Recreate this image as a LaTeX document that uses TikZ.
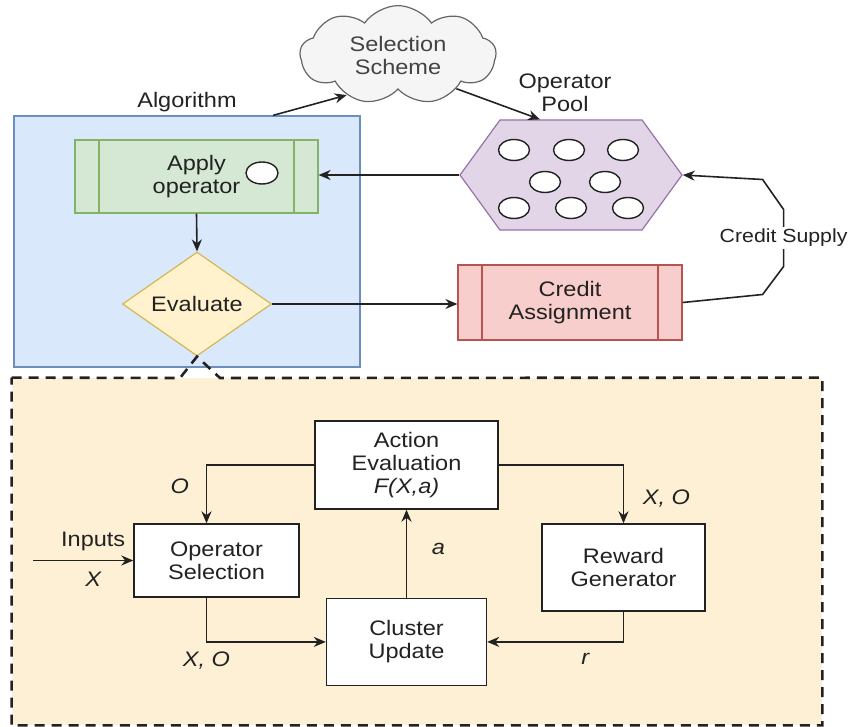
\documentclass[tikz,border=0pt]{standalone}
\usepackage{fontspec}
\setmainfont{Liberation Sans}[FakeStretch=1.12]
\usepackage{tikz}
\usetikzlibrary{positioning, arrows.meta, shapes.geometric, shapes.symbols, calc}

\definecolor{algofill}{HTML}{DAE8FC}
\definecolor{algoline}{HTML}{6C8EBF}
\definecolor{applyfill}{HTML}{D5E8D4}
\definecolor{applyline}{HTML}{82B366}
\definecolor{evalfill}{HTML}{FFF2CC}
\definecolor{evalline}{HTML}{D6B656}
\definecolor{creditfill}{HTML}{F8CECC}
\definecolor{creditline}{HTML}{B85450}
\definecolor{poolfill}{HTML}{E1D5E7}
\definecolor{poolline}{HTML}{9673A6}
\definecolor{cloudfill}{HTML}{F5F5F5}
\definecolor{cloudline}{HTML}{666666}
\definecolor{zoomfill}{HTML}{FDF0D4}
\definecolor{ink}{HTML}{222222}

\tikzset{
    procbox/.style={draw=#1line, fill=#1fill, line width=0.6pt, align=center,
        path picture={\draw[#1line, line width=0.6pt]
            ([xshift=12pt]path picture bounding box.north west) -- ([xshift=12pt]path picture bounding box.south west)
            ([xshift=-12pt]path picture bounding box.north east) -- ([xshift=-12pt]path picture bounding box.south east);}},
    flowbox/.style={draw=ink, fill=white, line width=0.7pt, align=center},
    token/.style={draw=ink, fill=white, line width=0.7pt},
    conn/.style={->, draw=ink, line width=0.8pt},
    varlbl/.style={font=\fontsize{10.5}{11.5}\selectfont\itshape},
    zoomedge/.style={draw=ink, line width=1.3pt, dash pattern=on 5pt off 3.5pt}
}

\begin{document}
\begin{tikzpicture}[x=0.5pt, y=-0.5pt, node distance=1pt, >={Stealth[length=6pt, width=5pt]},
    font=\fontsize{10.5}{11.5}\selectfont, text=ink]
    \useasboundingbox (0,0) rectangle (850,727);

    \node[fill=zoomfill, inner sep=0pt, minimum width=405pt, minimum height=173.5pt] (detail) at (417,551.5) {};

    \node[fill=algofill, draw=algoline, line width=0.6pt, minimum width=173pt, minimum height=125.5pt] (algo) at (187,241.5) {};
    \node[above=-2pt of algo] (algolbl) {Algorithm};
    \node[cloud, cloud puffs=9, cloud puff arc=110, aspect=2.3, draw=cloudline, fill=cloudfill, line width=0.6pt, align=center,
        text=ink!85, minimum width=98pt, minimum height=42pt] (scheme) at (398,55) {Selection\\Scheme};
    \node[procbox=apply, minimum width=121.5pt, minimum height=36.5pt] (apply) at (196.5,176.5) {Apply\\operator};
    \node[token, ellipse, minimum width=16pt, minimum height=11pt, inner sep=0pt] (slot) at (262,173) {};
    \node[diamond, aspect=1.43, draw=evalline, fill=evalfill, line width=0.6pt, inner sep=0pt,
        minimum width=74.5pt, minimum height=52pt] (evaluate) at (197,304) {Evaluate};
    \node[signal, signal to=west and east, signal pointer angle=108, draw=poolline, fill=poolfill, line width=0.6pt,
        minimum width=111pt, minimum height=55pt] (pool) at (571,175) {};
    \node[above=0.5pt of pool, xshift=-3pt, align=center] (poollbl) {Operator\\Pool};
    \node[procbox=credit, minimum width=112pt, minimum height=37.5pt] (credit) at (570,302.5) {Credit\\Assignment};

    \foreach \dx/\dy in {-57/-25, -2/-25, 52/-25, -26/7, 34/7, -57/33, 0/33, 57/33}
        \draw[token] ($(pool.center)+(\dx,\dy)$) ellipse (7.75pt and 5.25pt);

    \draw[conn] (algo.north -| 273,0) -- (scheme.218);
    \draw[conn] (scheme.330) -- ($(pool.north)+(-31,0)$);
    \draw[conn] (pool.west) -- (pool.west -| apply.east);
    \draw[conn] (apply.south) -- (evaluate.north);
    \draw[conn] (evaluate.east) -- (evaluate.east -| credit.west);
    \draw[conn] (credit.east) -- ++(80,-8) -- ++(21,-28)
        -- node[fill=white, inner sep=1pt, font=\fontsize{9.5}{11}\selectfont] (supply) {Credit Supply} ++(0,-57)
        -- ++(-21,-30) -- (pool.east);

    \node[flowbox, minimum width=91.5pt, minimum height=44pt] (acteval) at (406.5,465) {Action\\Evaluation\\\textit{F(X,a)}};
    \node[flowbox, minimum width=80pt, minimum height=43.5pt, below=44pt of acteval] (cluster) {Cluster\\Update};
    \node[flowbox, minimum width=82.5pt, minimum height=36.5pt] (opsel) at (216.5,560.5) {Operator\\Selection};
    \node[flowbox, minimum width=81.5pt, minimum height=43.5pt] (reward) at (623.5,567.5) {Reward\\Generator};
    \coordinate (src) at (33,560.5);

    \draw[conn] (acteval.west) -| node[varlbl, pos=0.68, left=5pt] {O} ([xshift=-5pt]opsel.north);
    \draw[conn] (acteval.east) -| node[varlbl, pos=0.79, right=6pt] {X, O} (reward.north);
    \draw[conn] (src) -- node[pos=0.6, above=1pt] {Inputs} node[varlbl, pos=0.6, below=2pt] {X} (opsel.west);
    \draw[conn] ([xshift=-5pt]opsel.south) |- node[varlbl, pos=0.5, below=1pt] {X, O} (cluster.west);
    \draw[conn] (cluster.north) -- node[varlbl, pos=0.55, right=9pt] {a} (acteval.south);
    \draw[conn] (reward.south) |- node[varlbl, pos=0.64, below=2pt] {r} (cluster.east);

    \draw[zoomedge] (detail.north west) -- (180,378) -- (evaluate.south) -- (220,378) -- (detail.north east)
        -- (detail.south east) -- (detail.south west) -- cycle;
\end{tikzpicture}
\end{document}
